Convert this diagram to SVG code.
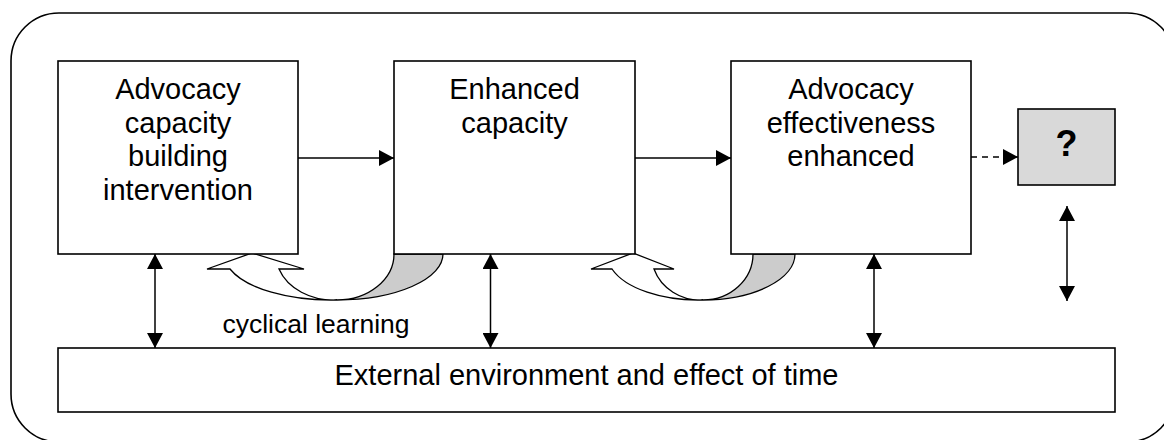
<svg xmlns="http://www.w3.org/2000/svg" width="1164" height="440" viewBox="0 0 1164 440">
  <style>
    .box { fill: #ffffff; stroke: #000000; stroke-width: 1.6; }
    .gray { fill: #d9d9d9; stroke: #000000; stroke-width: 1.6; }
    .shade { fill: #cccccc; stroke: #000000; stroke-width: 1.3; }
    .uturn { fill: #ffffff; stroke: #000000; stroke-width: 1.3; }
    .line { fill: none; stroke: #000000; stroke-width: 1.5; }
    .dash { fill: none; stroke: #000000; stroke-width: 1.5; stroke-dasharray: 6 5; }
    .t { font-family: "Liberation Sans", Arial, sans-serif; font-size: 29px; fill: #000000; text-anchor: middle; }
    .s { font-family: "Liberation Sans", Arial, sans-serif; font-size: 26.5px; fill: #000000; text-anchor: middle; }
    .q { font-family: "Liberation Sans", Arial, sans-serif; font-size: 36px; font-weight: bold; fill: #000000; text-anchor: middle; }
  </style>
  <defs>
    <marker id="ah" markerUnits="userSpaceOnUse" markerWidth="16" markerHeight="16" refX="15" refY="8" orient="auto-start-reverse">
      <path d="M0,0 L15,8 L0,16 Z" fill="#000000"/>
    </marker>
  </defs>

  <rect id="frame" x="11" y="13" width="1164" height="429" rx="48" ry="48" fill="#ffffff" stroke="#000000" stroke-width="1.6"/>

  <g id="cyclical-learning-1">
    <path class="shade" d="M337,300 A57,46 0 0 0 394,254 L443,254 A106,46 0 0 1 337,300 Z"/>
    <path class="uturn" d="M337,300 A107,46 0 0 1 230,269 L207,269 L252,253 L304,269 L279,269 A58,46 0 0 0 337,300 Z"/>
  </g>
  <g id="cyclical-learning-2">
    <path class="shade" d="M703,300 A50,46 0 0 0 753,254 L795,254 A92,46 0 0 1 703,300 Z"/>
    <path class="uturn" d="M703,300 A91,46 0 0 1 612,269 L591,269 L633,253 L674,269 L654,269 A49,46 0 0 0 703,300 Z"/>
  </g>
  <g id="cyclical-label">
    <text class="s" x="316" y="333">cyclical learning</text>
  </g>

  <g id="box-intervention">
    <rect class="box" x="58" y="61" width="240" height="193"/>
    <text class="t" x="178" y="99">Advocacy</text>
    <text class="t" x="178" y="132.5">capacity</text>
    <text class="t" x="178" y="166">building</text>
    <text class="t" x="178" y="199.5">intervention</text>
  </g>
  <g id="box-capacity">
    <rect class="box" x="394" y="61" width="241" height="193"/>
    <text class="t" x="514.5" y="99">Enhanced</text>
    <text class="t" x="514.5" y="132.5">capacity</text>
  </g>
  <g id="box-effectiveness">
    <rect class="box" x="731" y="61" width="240" height="193"/>
    <text class="t" x="851" y="99">Advocacy</text>
    <text class="t" x="851" y="132.5">effectiveness</text>
    <text class="t" x="851" y="166">enhanced</text>
  </g>
  <g id="box-unknown">
    <rect class="gray" x="1018" y="109" width="97" height="76"/>
    <text class="q" x="1066.5" y="156">?</text>
  </g>
  <g id="box-environment">
    <rect class="box" x="58" y="348" width="1057" height="64"/>
    <text class="t" x="586.5" y="385">External environment and effect of time</text>
  </g>

  <g id="connectors">
    <line class="line" x1="298" y1="158" x2="394" y2="158" marker-end="url(#ah)"/>
    <line class="line" x1="635" y1="158" x2="731" y2="158" marker-end="url(#ah)"/>
    <line class="dash" x1="971" y1="157" x2="1018" y2="157" marker-end="url(#ah)"/>
    <line class="line" x1="155" y1="254" x2="155" y2="348" marker-start="url(#ah)" marker-end="url(#ah)"/>
    <line class="line" x1="490.5" y1="254" x2="490.5" y2="348" marker-start="url(#ah)" marker-end="url(#ah)"/>
    <line class="line" x1="874" y1="254" x2="874" y2="348" marker-start="url(#ah)" marker-end="url(#ah)"/>
    <line class="line" x1="1067" y1="206" x2="1067" y2="301" marker-start="url(#ah)" marker-end="url(#ah)"/>
  </g>
</svg>
